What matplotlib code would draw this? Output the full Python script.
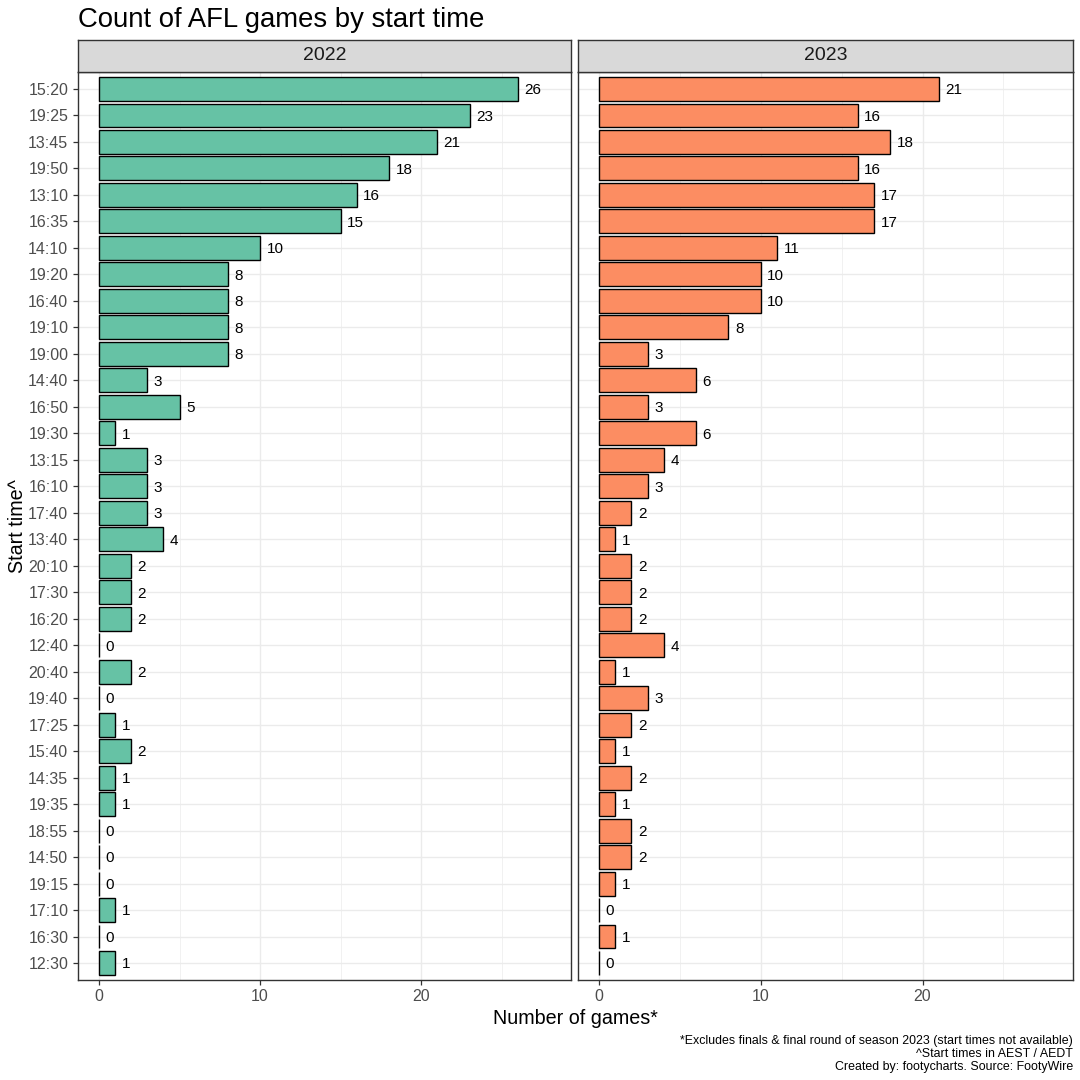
import matplotlib
matplotlib.use("Agg")
import matplotlib.pyplot as plt
import numpy as np

plt.rcParams['font.family'] = ['Liberation Sans', 'DejaVu Sans']

start_times = ["15:20", "19:25", "13:45", "19:50", "13:10", "16:35", "14:10", "19:20",
               "16:40", "19:10", "19:00", "14:40", "16:50", "19:30", "13:15", "16:10",
               "17:40", "13:40", "20:10", "17:30", "16:20", "12:40", "20:40", "19:40",
               "17:25", "15:40", "14:35", "19:35", "18:55", "14:50", "19:15", "17:10",
               "16:30", "12:30"]
games_2022 = [26, 23, 21, 18, 16, 15, 10, 8, 8, 8, 8, 3, 5, 1, 3, 3, 3, 4, 2, 2, 2, 0,
              2, 0, 1, 2, 1, 1, 0, 0, 0, 1, 0, 1]
games_2023 = [21, 16, 18, 16, 17, 17, 11, 10, 10, 8, 3, 6, 3, 6, 4, 3, 2, 1, 2, 2, 2, 4,
              1, 3, 2, 1, 2, 1, 2, 2, 1, 0, 1, 0]
years = ["2022", "2023"]
colors = ["#66C2A5", "#FC8D62"]

W = H = 1080
fig = plt.figure(figsize=(10.8, 10.8), dpi=100)

def fx(px):
    return px / W

def fy(py):
    return 1 - py / H

panels = [(78, 571), (578, 1073)]
ptop, pbot = 72, 980
stop = 40
n = len(start_times)
ypos = np.arange(n)

for i, (year, vals, col) in enumerate(zip(years, [games_2022, games_2023], colors)):
    l, r = panels[i]
    ax = fig.add_axes([fx(l), fy(pbot), fx(r - l), (pbot - ptop) / H])
    ax.set_xlim(-1.3, 29.3)
    ax.set_ylim(n - 1 + 0.64, -0.64)
    ax.set_xticks([0, 10, 20])
    ax.set_xticks([5, 15, 25], minor=True)
    ax.set_yticks(ypos)
    ax.grid(True, which='major', color='#EBEBEB', linewidth=1.0, zorder=0)
    ax.grid(True, which='minor', axis='x', color='#EBEBEB', linewidth=0.5, zorder=0)
    ax.set_axisbelow(True)
    ax.barh(ypos, vals, height=0.9, color=col, edgecolor='black', linewidth=1.0, zorder=2)
    for y, v in zip(ypos, vals):
        ax.text(v + 0.4, y + 0.05, str(v), va='center', ha='left', fontsize=11, color='black', zorder=3)
    for s in ax.spines.values():
        s.set_color('#333333')
        s.set_linewidth(1.0)
    ax.tick_params(axis='both', which='major', color='#333333', length=3.5, width=0.9,
                   labelsize=11.5, labelcolor='#4D4D4D')
    ax.tick_params(axis='both', which='minor', length=0)
    ax.tick_params(axis='x', pad=3)
    if i == 0:
        ax.set_yticklabels(start_times)
    else:
        ax.tick_params(axis='y', left=False, labelleft=False)
    # strip
    sax = fig.add_axes([fx(l), fy(ptop), fx(r - l), (ptop - stop) / H])
    sax.set_facecolor('#D9D9D9')
    sax.set_xticks([])
    sax.set_yticks([])
    for s in sax.spines.values():
        s.set_color('#333333')
        s.set_linewidth(1.0)
    sax.text(0.5, 0.5, year, ha='center', va='center', fontsize=14, color='#1A1A1A',
             transform=sax.transAxes)

fig.text(fx(78), fy(20), "Count of AFL games by start time", ha='left', va='center',
         fontsize=19.8, color='black')
fig.text(fx(18), fy(526), "Start time^", rotation=90, ha='center', va='center', fontsize=14.2)
fig.text(fx(575), fy(1018), "Number of games*", ha='center', va='center', fontsize=14.2)
captions = ["*Excludes finals & final round of season 2023 (start times not available)",
            "^Start times in AEST / AEDT",
            "Created by: footycharts. Source: FootyWire"]
for k, c in enumerate(captions):
    fig.text(fx(1073), fy(1041 + 13 * k), c, ha='right', va='center', fontsize=8.9)

fig.savefig("out.png", dpi=100, facecolor='white')
